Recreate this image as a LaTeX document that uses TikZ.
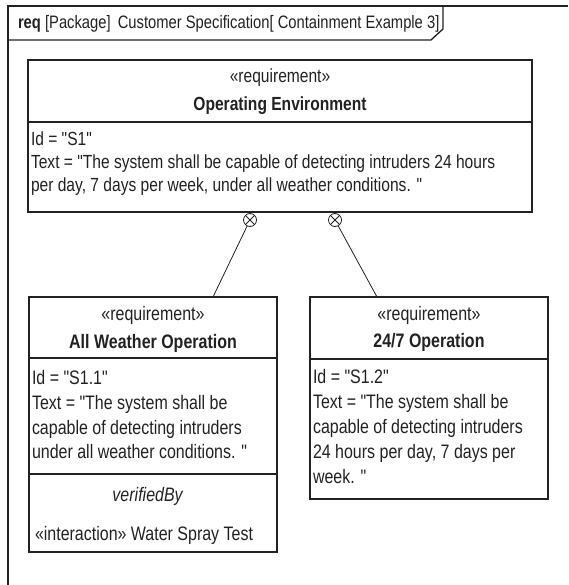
\documentclass[tikz,border=0pt]{standalone}
\usepackage{fontspec}
\setmainfont{Liberation Sans}[FakeStretch=0.82, Ligatures=TeXOff]
\definecolor{ink}{HTML}{222222}
\begin{document}
\begin{tikzpicture}[x=1pt,y=-1pt,
  every node/.style={inner sep=0pt, outer sep=0pt, text=ink},
  body/.style={font=\fontsize{19}{22}\selectfont},
  small/.style={font=\fontsize{19.5}{23}\selectfont},
  lbl/.style={body, anchor=base west},
  ctr/.style={body, anchor=base},
  slbl/.style={small, anchor=base west},
  sctr/.style={small, anchor=base},
  reqbox/.style={draw=ink, line width=1.1pt, rectangle, anchor=north west},
  sep/.style={draw=ink, line width=1.1pt},
  frameline/.style={draw=ink, line width=1.3pt},
  link/.style={draw=ink, line width=0.8pt},
  contain/.style={circle, draw=ink, line width=0.8pt, minimum size=13pt},
]
\useasboundingbox (0,0) rectangle (568,585);

% diagram frame with its name tab
\draw[frameline] (568,6) -- (8,6) -- (8,585);
\draw[frameline] (8,40) -- (431,40) -- (443,29) -- (443,6);
\node[anchor=base west, font=\fontsize{18}{21}\selectfont] (hdr) at (18,29)
  {\textbf{req} [Package]\, Customer Specification[ Containment Example 3]};

% parent requirement
\node[reqbox, minimum width=504pt, minimum height=152pt] (env) at (28,60) {};
\draw[sep] (env.west |- 0,122) -- (env.east |- 0,122);
\node[ctr] (envst) at (280,83) {«requirement»};
\node[ctr] (envnm) at (280,111) {\textbf{Operating Environment}};
\node[lbl] (envid) at (31,146) {Id = "S1"};
\node[lbl] (envt1) at (31,169) {Text = "The system shall be capable of detecting intruders 24 hours};
\node[lbl] (envt2) at (31,191.5) {per day, 7 days per week, under all weather conditions. "};

% child requirement: all weather
\node[reqbox, minimum width=248pt, minimum height=255pt] (awo) at (29,297) {};
\draw[sep] (awo.west |- 0,358) -- (awo.east |- 0,358);
\draw[sep] (awo.west |- 0,474) -- (awo.east |- 0,474);
\node[sctr] (awost) at (153,320) {«requirement»};
\node[sctr] (awonm) at (153,348) {\textbf{All Weather Operation}};
\node[slbl] (awoid) at (32,384) {Id = "S1.1"};
\node[slbl] (awot1) at (32,409) {Text = "The system shall be};
\node[slbl] (awot2) at (32,434) {capable of detecting intruders};
\node[slbl] (awot3) at (32,458.5) {under all weather conditions. "};
\node[sctr] (awovb) at (148,501.5) {\textit{verifiedBy}};
\node[slbl] (awotc) at (35,540.5) {«interaction» Water Spray Test};

% child requirement: 24/7
\node[reqbox, minimum width=238pt, minimum height=202pt] (tfs) at (310,297) {};
\draw[sep] (tfs.west |- 0,359) -- (tfs.east |- 0,359);
\node[sctr] (tfsst) at (429,320) {«requirement»};
\node[sctr] (tfsnm) at (429,347.5) {\textbf{24/7 Operation}};
\node[slbl] (tfsid) at (313,383.5) {Id = "S1.2"};
\node[slbl] (tfst1) at (313,408.5) {Text = "The system shall be};
\node[slbl] (tfst2) at (313,433.5) {capable of detecting intruders};
\node[slbl] (tfst3) at (313,458.5) {24 hours per day, 7 days per};
\node[slbl] (tfst4) at (313,483.5) {week. "};

% containment links
\node[contain] (k1) at (250,220) {};
\node[contain] (k2) at (335,220) {};
\foreach \k in {k1,k2} {
  \draw[link] (\k.45) -- (\k.225);
  \draw[link] (\k.135) -- (\k.315);
}
\coordinate (awoin) at (213,297);
\coordinate (tfsin) at (377,297);
\draw[link] (k1) -- (awoin);
\draw[link] (k2) -- (tfsin);
\end{tikzpicture}
\end{document}
